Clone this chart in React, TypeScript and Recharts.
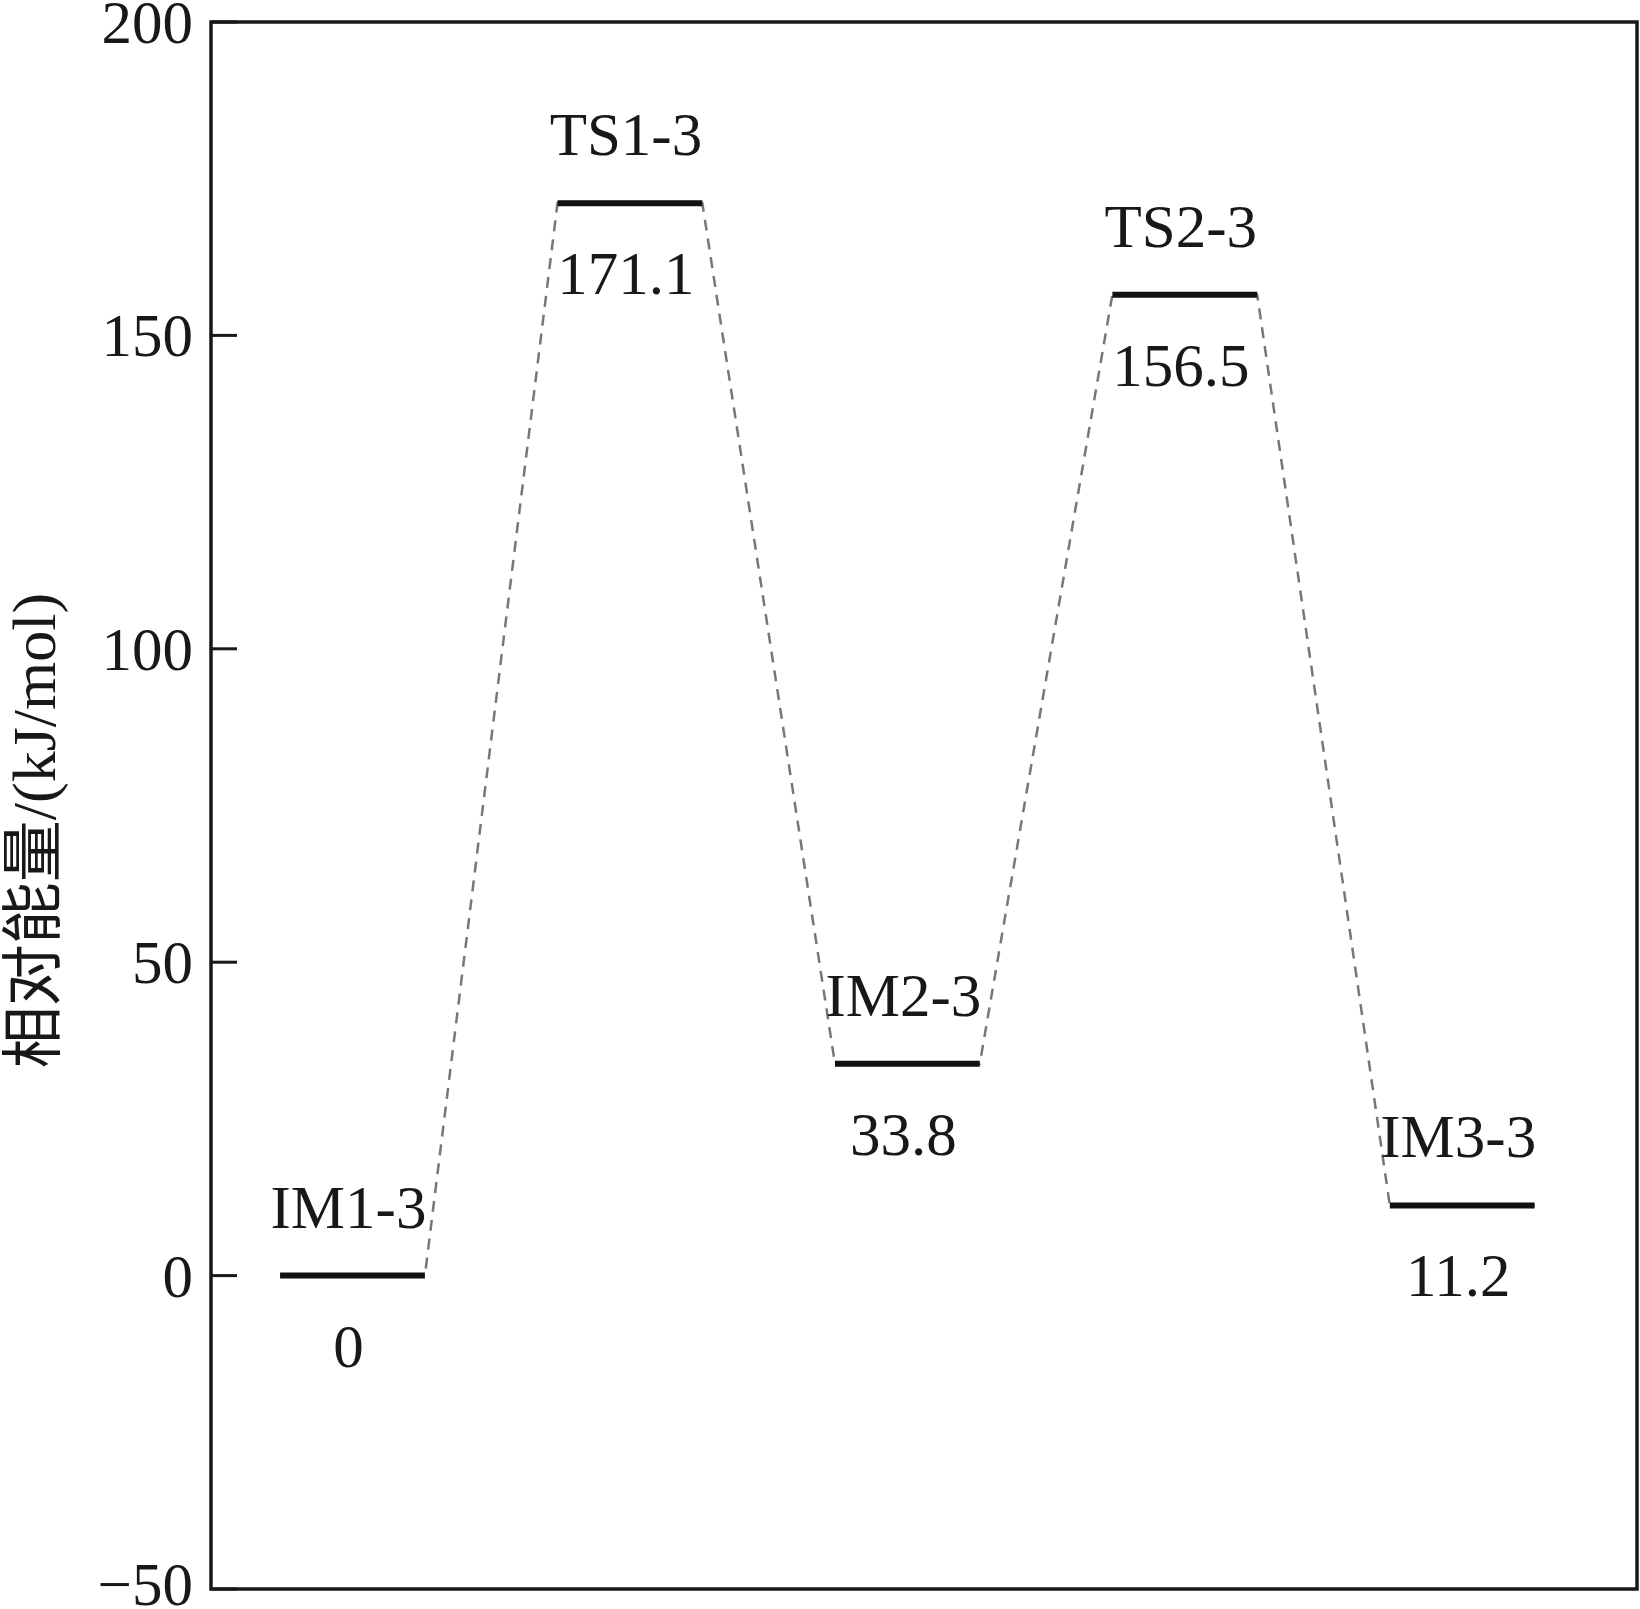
import React from 'react';
import { ComposedChart, Line, XAxis, YAxis, ReferenceArea, LabelList } from 'recharts';

const stateNames = ['IM1-3', 'TS1-3', 'IM2-3', 'TS2-3', 'IM3-3'];
const energies = [0, 171.1, 33.8, 156.5, 11.2];
const energyLabels = ['0', '171.1', '33.8', '156.5', '11.2'];
const yTicks = [-50, 0, 50, 100, 150, 200];
const yAxisTitle = '相对能量/(kJ/mol)';

const HALF = 0.261;
const X_DOMAIN: [number, number] = [-0.51, 4.63];
const FONT = '"Liberation Serif", "Times New Roman", "Noto Sans CJK SC", serif';
const INK = '#1a1718';

type Row = { x: number; level: number | null; path: number | null; name?: string; valueLabel?: string };

const data: Row[] = [];
energies.forEach((e, i) => {
  data.push({ x: i - HALF, level: e, path: e });
  data.push({ x: i, level: e, path: e, name: stateNames[i], valueLabel: energyLabels[i] });
  data.push({ x: i + HALF, level: e, path: e });
  if (i < energies.length - 1) data.push({ x: i + 0.5, level: null, path: null });
});

const fmt = (v: number) => (v < 0 ? '\u2212' + Math.abs(v) : String(v));

const YTick = (props: any) => {
  const { x, y, payload } = props;
  const baseline = Math.min(y + 21, 1605);
  return (
    <g>
      <line x1={x} x2={x + 26} y1={y} y2={y} stroke={INK} strokeWidth={3} />
      <text x={x - 18} y={baseline} textAnchor="end" fontFamily={FONT} fontSize={61} fill={INK}>
        {fmt(payload.value)}
      </text>
    </g>
  );
};

const getXY = (p: any) => {
  const x = p.x ?? p.viewBox?.x;
  const y = p.y ?? p.viewBox?.y;
  return { x, y };
};

const NameLabel = (p: any) => {
  if (p.value === undefined || p.value === null || p.value === '') return null;
  const { x, y } = getXY(p);
  return (
    <text x={x - 4} y={y - 48} textAnchor="middle" fontFamily={FONT} fontSize={61} fill={INK}>
      {p.value}
    </text>
  );
};

const ValueLabel = (p: any) => {
  if (p.value === undefined || p.value === null || p.value === '') return null;
  const { x, y } = getXY(p);
  return (
    <text x={x - 4} y={y + 91} textAnchor="middle" fontFamily={FONT} fontSize={61} fill={INK}>
      {p.value}
    </text>
  );
};

const YTitle = (p: any) => {
  const vb = p.viewBox || { x: 0, y: 22, width: 211, height: 1567 };
  const cx = vb.x + 55;
  const cy = vb.y + vb.height / 2 + 25;
  return (
    <text
      x={cx}
      y={cy}
      transform={`rotate(-90 ${cx} ${cy})`}
      textAnchor="middle"
      fontFamily={FONT}
      fontSize={62}
      fill={INK}
    >
      {yAxisTitle}
    </text>
  );
};

export default function App() {
  return (
    <div style={{ position: 'absolute', left: 0, top: 0, background: '#fff' }}>
      <ComposedChart width={1640} height={1609} data={data} margin={{ top: 22, right: 3, bottom: 20, left: 0 }}>
        <XAxis type="number" dataKey="x" domain={X_DOMAIN} hide allowDataOverflow />
        <YAxis
          type="number"
          domain={[-50, 200]}
          ticks={yTicks}
          width={211}
          axisLine={false}
          tickLine={false}
          tickSize={0}
          tickMargin={0}
          tick={<YTick />}
          interval={0}
          label={{ content: <YTitle /> }}
        />
        <ReferenceArea
          x1={X_DOMAIN[0]}
          x2={X_DOMAIN[1]}
          y1={-50}
          y2={200}
          fill="none"
          fillOpacity={0}
          stroke={INK}
          strokeWidth={3.5}
          ifOverflow="visible"
        />
        <Line
          type="linear"
          dataKey="path"
          stroke="#777"
          strokeWidth={2.5}
          strokeDasharray="11 8"
          dot={false}
          activeDot={false}
          connectNulls
          isAnimationActive={false}
        />
        <Line
          type="linear"
          dataKey="level"
          stroke="#111"
          strokeWidth={6}
          dot={false}
          activeDot={false}
          connectNulls={false}
          isAnimationActive={false}
        >
          <LabelList dataKey="name" content={<NameLabel />} />
          <LabelList dataKey="valueLabel" content={<ValueLabel />} />
        </Line>
      </ComposedChart>
    </div>
  );
}
